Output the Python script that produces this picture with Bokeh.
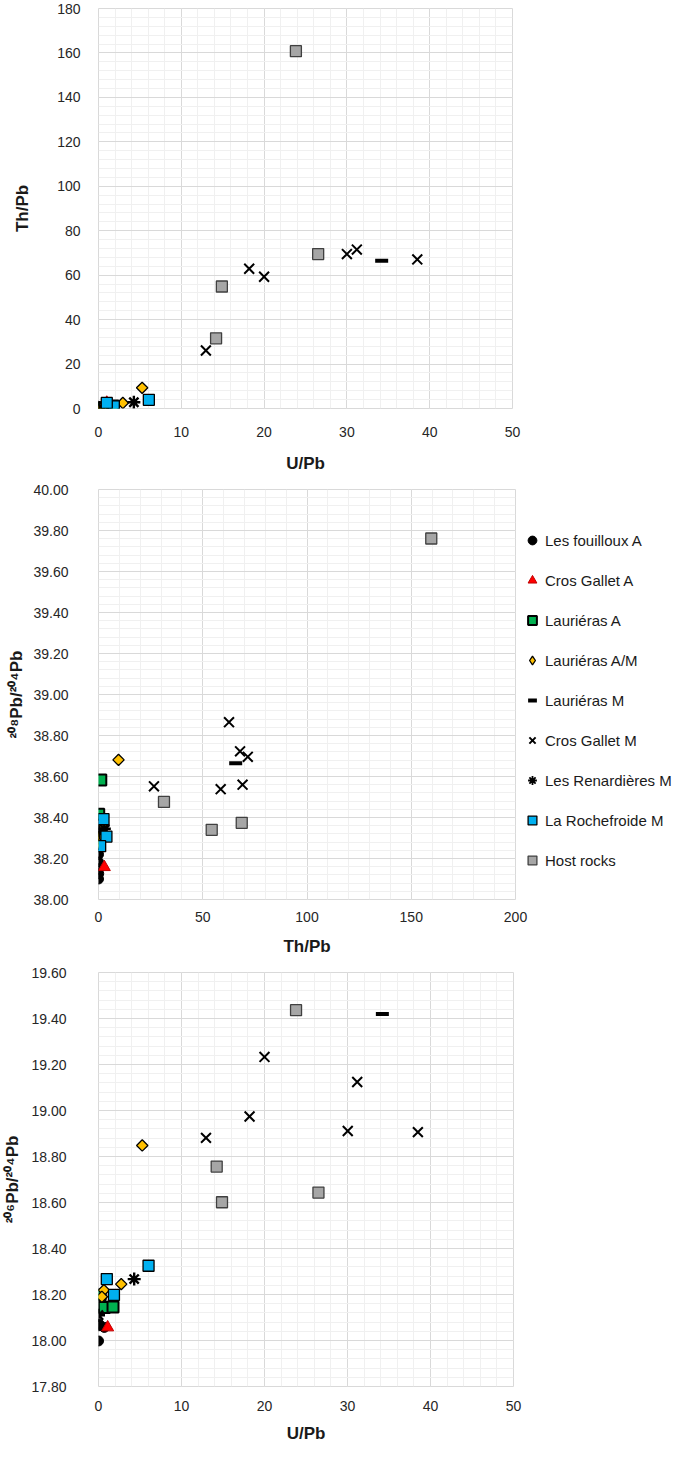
import math
from bokeh.plotting import figure
from bokeh.layouts import column
from bokeh.models import FixedTicker, NumeralTickFormatter, Legend, LegendItem, Range1d
from bokeh.embed import file_html
from bokeh.resources import INLINE

# ---------------- data ----------------
series_names = ["Les fouilloux A", "Cros Gallet A", "Lauriéras A", "Lauriéras A/M",
                "Lauriéras M", "Cros Gallet M", "Les Renardières M",
                "La Rochefroide M", "Host rocks"]

# Panel 1 : U/Pb (x) vs Th/Pb (y)
p1_fouilloux_u = [0.0, 0.1, 0.0, 0.7]
p1_fouilloux_th = [0.2, 0.6, 1.0, 0.4]
p1_crosA_u = [1.0]
p1_crosA_th = [2.6]
p1_laurA_u = [0.2, 0.7, 1.75]
p1_laurA_th = [0.2, 0.1, 1.1]
p1_laurAM_u = [5.27, 2.94, 0.65, 0.4]
p1_laurAM_th = [9.3, 2.5, 0.6, 0.4]
p1_laurM_u = [34.2]
p1_laurM_th = [66.5]
p1_crosM_u = [12.97, 18.2, 20.0, 30.0, 31.2, 38.5]
p1_crosM_th = [26.1, 62.9, 59.3, 69.5, 71.5, 67.1]
p1_renard_u = [4.27, 0.0]
p1_renard_th = [2.8, 0.3]
p1_roche_u = [6.08, 1.85, 1.0]
p1_roche_th = [3.9, 1.0, 2.5]
p1_host_u = [23.84, 26.53, 14.9, 14.2]
p1_host_th = [160.8, 69.5, 54.9, 31.6]

# Panel 2 : Th/Pb (x) vs 208Pb/204Pb (y)
p2_fouilloux_th = [0.0, 0.0, 0.0, 0.1, 0.0]
p2_fouilloux_r = [38.22, 38.183, 38.15, 38.126, 38.10]
p2_crosA_th = [2.8]
p2_crosA_r = [38.158]
p2_laurA_th = [1.1, 0.1, 0.2]
p2_laurA_r = [38.583, 38.416, 38.30]
p2_laurAM_th = [9.6, 2.5, 0.6, 0.4]
p2_laurAM_r = [38.681, 38.36, 38.31, 38.27]
p2_laurM_th = [65.8]
p2_laurM_r = [38.665]
p2_crosM_th = [26.6, 62.6, 58.6, 67.9, 71.6, 69.1]
p2_crosM_r = [38.552, 38.865, 38.538, 38.723, 38.696, 38.560]
p2_renard_th = [2.8, 0.3]
p2_renard_r = [38.345, 38.33]
p2_roche_th = [3.8, 0.8, 2.4]
p2_roche_r = [38.307, 38.26, 38.392]
p2_host_th = [159.6, 68.7, 54.3, 31.4]
p2_host_r = [39.761, 38.374, 38.340, 38.476]

# Panel 3 : U/Pb (x) vs 206Pb/204Pb (y)
p3_fouilloux_u = [0.0, 0.1, 0.7, 0.0]
p3_fouilloux_r = [18.064, 18.07, 18.057, 17.998]
p3_crosA_u = [1.1]
p3_crosA_r = [18.057]
p3_laurA_u = [0.2, 0.7, 1.75]
p3_laurA_r = [18.198, 18.144, 18.146]
p3_laurAM_u = [5.27, 2.74, 0.65, 0.41]
p3_laurAM_r = [18.848, 18.245, 18.219, 18.19]
p3_laurM_u = [34.2]
p3_laurM_r = [19.42]
p3_crosM_u = [12.95, 18.2, 20.0, 30.03, 31.17, 38.48]
p3_crosM_r = [18.881, 18.974, 19.233, 18.911, 19.124, 18.906]
p3_renard_u = [4.3, 0.0]
p3_renard_r = [18.267, 18.11]
p3_roche_u = [6.03, 1.86, 1.0]
p3_roche_r = [18.325, 18.198, 18.267]
p3_host_u = [23.8, 26.5, 14.88, 14.24]
p3_host_r = [19.436, 18.643, 18.601, 18.756]

# tick values
p1_xticks = [0, 10, 20, 30, 40, 50]
p1_yticks = [0, 20, 40, 60, 80, 100, 120, 140, 160, 180]
p2_xticks = [0, 50, 100, 150, 200]
p2_yticks = [38.0, 38.2, 38.4, 38.6, 38.8, 39.0, 39.2, 39.4, 39.6, 39.8, 40.0]
p3_xticks = [0, 10, 20, 30, 40, 50]
p3_yticks = [17.8, 18.0, 18.2, 18.4, 18.6, 18.8, 19.0, 19.2, 19.4, 19.6]

# ---------------- styles ----------------
STY = {
    "Les fouilloux A": dict(marker="circle", size=10, fill_color="black", line_color="black", line_width=1),
    "Cros Gallet A": dict(marker="triangle", size=12, fill_color="#FF0000", line_color="#C00000", line_width=1),
    "Lauriéras A": dict(marker="square", size=11, fill_color="#00B050", line_color="black", line_width=2),
    "Lauriéras A/M": dict(marker="square", size=8, angle=math.pi / 4, fill_color="#FFC000", line_color="black", line_width=1.3),
    "Lauriéras M": dict(marker="dash", size=13, fill_color="black", line_color="black", line_width=4),
    "Cros Gallet M": dict(marker="x", size=14, fill_color="black", line_color="black", line_width=2),
    "Les Renardières M": dict(marker="asterisk", size=13, fill_color="black", line_color="black", line_width=2.4),
    "La Rochefroide M": dict(marker="square", size=11, fill_color="#00B0F0", line_color="black", line_width=1.3),
    "Host rocks": dict(marker="square", size=11, fill_color="#A6A6A6", line_color="#404040", line_width=1.3),
}

FONT = "Liberation Sans"
TICK_COLOR = "#262626"


def minor_list(lo, hi, step):
    n = int(round((hi - lo) / step))
    return [round(lo + i * step, 6) for i in range(n + 1)]


def make_fig(xr, yr, xt, yt, xminor, yminor, xlabel, ylabel, yfmt,
             fw, fh, bl, br, bt, bb, ystand, ylstand, xstand, xlstand):
    p = figure(output_backend="svg", toolbar_location=None,
               x_range=Range1d(*xr), y_range=Range1d(*yr),
               frame_width=fw, frame_height=fh,
               min_border_left=bl, min_border_right=br,
               min_border_top=bt, min_border_bottom=bb,
               background_fill_color="white", border_fill_color="white",
               outline_line_color="#D9D9D9")
    p.xaxis.ticker = FixedTicker(ticks=xt, minor_ticks=xminor)
    p.yaxis.ticker = FixedTicker(ticks=yt, minor_ticks=yminor)
    if yfmt:
        p.yaxis.formatter = NumeralTickFormatter(format=yfmt)
    for ax in (p.xaxis, p.yaxis):
        ax.axis_line_color = None
        ax.major_tick_line_color = None
        ax.minor_tick_line_color = None
        ax.major_label_text_font = FONT
        ax.major_label_text_font_size = "14px"
        ax.major_label_text_color = TICK_COLOR
        ax.axis_label_text_font = FONT
        ax.axis_label_text_font_size = "17px"
        ax.axis_label_text_font_style = "bold"
        ax.axis_label_text_color = "#1a1a1a"
    p.xaxis.axis_label = xlabel
    p.yaxis.axis_label = ylabel
    p.yaxis.major_label_standoff = ystand
    p.yaxis.axis_label_standoff = ylstand
    p.xaxis.major_label_standoff = xstand
    p.xaxis.axis_label_standoff = xlstand
    for g in (p.xgrid, p.ygrid):
        g.grid_line_color = "#D9D9D9"
        g.grid_line_width = 1
        g.minor_grid_line_color = "#F0F0F0"
        g.minor_grid_line_width = 1
    return p


def add_series(p, xs_list, ys_list, proxies=None):
    rends = []
    legend_rends = []
    for name, xs, ys in zip(series_names, xs_list, ys_list):
        proxy = None
        if proxies and name in proxies:
            # legend-only glyph drawn underneath the visible marks
            proxy = p.scatter(x=xs, y=ys, **proxies[name])
        r = p.scatter(x=xs, y=ys, **STY[name])
        rends.append(r)
        legend_rends.append(proxy if proxy is not None else r)
    return rends, legend_rends


# ---------------- panel 1 ----------------
p1 = make_fig((0, 50), (0, 180), p1_xticks, p1_yticks,
              minor_list(0, 50, 2), minor_list(0, 180, 4),
              "U/Pb", "Th/Pb", None,
              414, 400, 81, 20, 8, 60, 12, 22, 12, 14)
add_series(p1,
           [p1_fouilloux_u, p1_crosA_u, p1_laurA_u, p1_laurAM_u, p1_laurM_u,
            p1_crosM_u, p1_renard_u, p1_roche_u, p1_host_u],
           [p1_fouilloux_th, p1_crosA_th, p1_laurA_th, p1_laurAM_th, p1_laurM_th,
            p1_crosM_th, p1_renard_th, p1_roche_th, p1_host_th])

# ---------------- panel 2 ----------------
p2 = make_fig((0, 200), (38.0, 40.0), p2_xticks, p2_yticks,
              minor_list(0, 200, 10), minor_list(38.0, 40.0, 0.04),
              "Th/Pb", "²⁰⁸Pb/²⁰⁴Pb", "0.00",
              417, 410, 85, 0, 14, 58, 24, 4, 6, 12)
PROXIES = {
    "Lauriéras A/M": dict(marker="diamond", size=10, fill_color="#FFC000", line_color="black", line_width=1.3),
    "Les Renardières M": dict(marker="asterisk", size=10, fill_color="black", line_color="black", line_width=1.8),
}
r2, leg_rends = add_series(p2,
                [p2_fouilloux_th, p2_crosA_th, p2_laurA_th, p2_laurAM_th, p2_laurM_th,
                 p2_crosM_th, p2_renard_th, p2_roche_th, p2_host_th],
                [p2_fouilloux_r, p2_crosA_r, p2_laurA_r, p2_laurAM_r, p2_laurM_r,
                 p2_crosM_r, p2_renard_r, p2_roche_r, p2_host_r],
                proxies=PROXIES)
legend = Legend(items=[LegendItem(label=n, renderers=[r]) for n, r in zip(series_names, leg_rends)],
                location=(6, 26), margin=3, padding=4, spacing=14,
                glyph_width=22, glyph_height=26, label_height=26,
                label_standoff=2, label_text_font=FONT, label_text_font_size="15px",
                label_text_color="#1a1a1a", border_line_color=None,
                background_fill_alpha=0)
p2.add_layout(legend, "right")

# ---------------- panel 3 ----------------
p3 = make_fig((0, 50), (17.8, 19.6), p3_xticks, p3_yticks,
              minor_list(0, 50, 2), minor_list(17.8, 19.6, 0.04),
              "U/Pb", "²⁰⁶Pb/²⁰⁴Pb", "0.00",
              415, 414, 89, 15, 14, 60, 26, 6, 8, 10)
add_series(p3,
           [p3_fouilloux_u, p3_crosA_u, p3_laurA_u, p3_laurAM_u, p3_laurM_u,
            p3_crosM_u, p3_renard_u, p3_roche_u, p3_host_u],
           [p3_fouilloux_r, p3_crosA_r, p3_laurA_r, p3_laurAM_r, p3_laurM_r,
            p3_crosM_r, p3_renard_r, p3_roche_r, p3_host_r])

layout = column(p1, p2, p3)
open("out.html", "w").write(file_html(layout, INLINE))
